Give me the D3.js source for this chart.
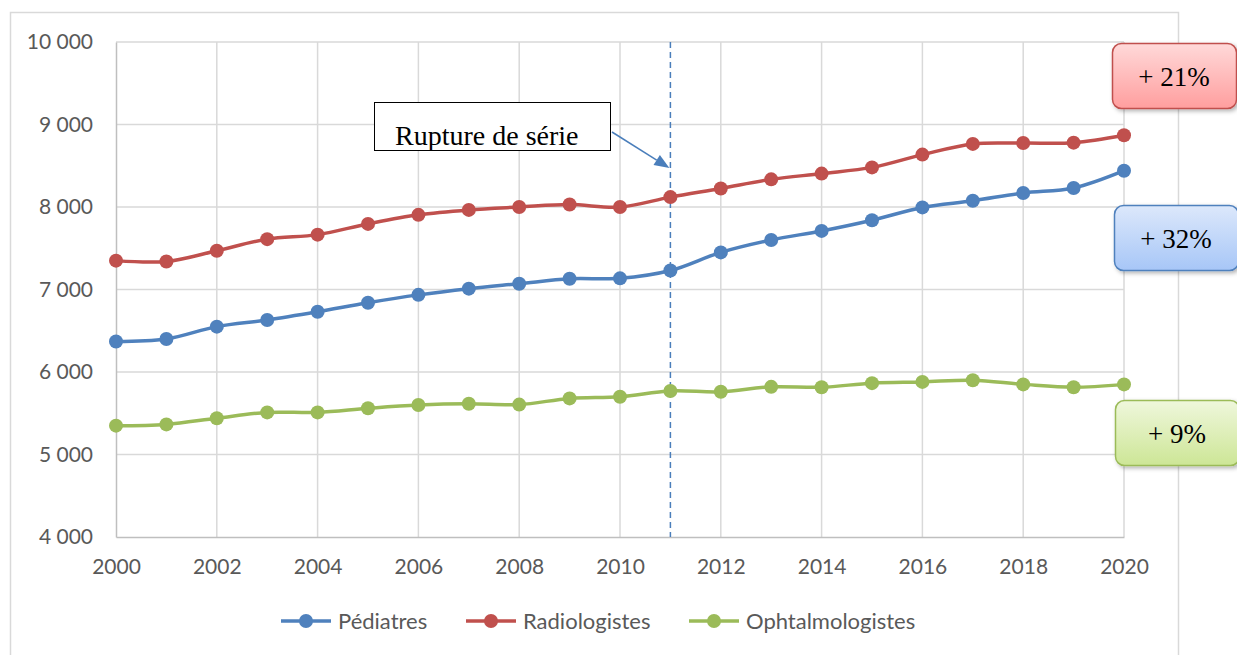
<html>
<head>
<meta charset="utf-8">
<script src="https://cdn.jsdelivr.net/npm/d3@7"></script>
<style>
  body { margin: 0; background: #fff; }
  svg text { font-family: Lato, "Liberation Sans", Arial, sans-serif; }
</style>
</head>
<body>
<div id="chart"></div>
<script>
// data
var years = d3.range(2000, 2021);
var pediatres = [6370, 6400, 6550, 6630, 6730, 6840, 6935, 7010, 7070, 7130, 7135, 7230, 7450, 7600, 7710, 7840, 7995, 8075, 8170, 8230, 8440];
var radiologistes = [7350, 7340, 7470, 7610, 7665, 7795, 7905, 7965, 8000, 8030, 8000, 8120, 8225, 8335, 8405, 8480, 8635, 8765, 8775, 8780, 8870];
var ophtalmo = [5350, 5365, 5440, 5510, 5510, 5560, 5600, 5615, 5605, 5680, 5700, 5770, 5760, 5820, 5815, 5865, 5880, 5900, 5850, 5815, 5850];
var yTicks = [4000, 5000, 6000, 7000, 8000, 9000, 10000];
var xTicks = d3.range(2000, 2021, 2);
var seriesNames = ["Pédiatres", "Radiologistes", "Ophtalmologistes"];
var seriesColors = ["#4F81BD", "#C0504D", "#9BBB59"];
var growthLabels = ["+ 32%", "+ 21%", "+ 9%"];
var breakYear = 2011;

var W = 1237, H = 655;
var svg = d3.select("#chart").append("svg").attr("width", W).attr("height", H);

var defs = svg.append("defs");
var grads = [["#dce8fb", "#a7c6f7"], ["#ffd9d9", "#ff9e9e"], ["#eff7dc", "#cde696"]];
grads.forEach(function (g, i) {
  var lg = defs.append("linearGradient").attr("id", "g" + i).attr("x1", 0).attr("y1", 0).attr("x2", 0).attr("y2", 1);
  lg.append("stop").attr("offset", "0%").attr("stop-color", g[0]);
  lg.append("stop").attr("offset", "100%").attr("stop-color", g[1]);
});
var sh = defs.append("filter").attr("id", "shadow").attr("x", "-20%").attr("y", "-20%").attr("width", "150%").attr("height", "150%");
sh.append("feDropShadow").attr("dx", 2).attr("dy", 2).attr("stdDeviation", 2).attr("flood-color", "#000").attr("flood-opacity", 0.3);

// outer chart frame
svg.append("rect").attr("x", 10.5).attr("y", 12.5).attr("width", 1168).attr("height", 660)
  .attr("fill", "none").attr("stroke", "#d9d9d9").attr("stroke-width", 1.5);

var x = d3.scaleLinear().domain([2000, 2020]).range([116, 1124]);
var y = d3.scaleLinear().domain([4000, 10000]).range([537, 42]);

// grid
svg.append("g").selectAll("line").data(yTicks.slice(1)).join("line")
  .attr("x1", x(2000)).attr("x2", x(2020)).attr("y1", d => y(d)).attr("y2", d => y(d))
  .attr("stroke", "#d9d9d9").attr("stroke-width", 1.5);
svg.append("g").selectAll("line").data(xTicks.slice(1)).join("line")
  .attr("x1", d => x(d)).attr("x2", d => x(d)).attr("y1", y(10000)).attr("y2", y(4000))
  .attr("stroke", "#d9d9d9").attr("stroke-width", 1.5);

// axes
var fmt = function (d) { return d3.format(",")(d).replace(",", " "); };
var yAxis = svg.append("g").attr("transform", "translate(" + x(2000) + ",0)")
  .call(d3.axisLeft(y).tickValues(yTicks).tickSize(0).tickPadding(23).tickFormat(fmt));
var xAxis = svg.append("g").attr("transform", "translate(0," + y(4000) + ")")
  .call(d3.axisBottom(x).tickValues(xTicks).tickSize(0).tickPadding(22).tickFormat(d3.format("d")));
[yAxis, xAxis].forEach(function (a) {
  a.select(".domain").attr("stroke", "#bfbfbf").attr("stroke-width", 1.5);
  a.selectAll("text").attr("fill", "#595959").style("font-family", "Lato, sans-serif").style("font-size", "21px");
});

// break line
svg.append("line").attr("x1", x(breakYear)).attr("x2", x(breakYear)).attr("y1", y(10000)).attr("y2", y(4000))
  .attr("stroke", "#4A7EBB").attr("stroke-width", 1.5).attr("stroke-dasharray", "6,4");

// series
var allSeries = [pediatres, radiologistes, ophtalmo];
var line = d3.line().x((d, i) => x(years[i])).y(d => y(d)).curve(d3.curveCatmullRom.alpha(0.5));
allSeries.forEach(function (vals, k) {
  var g = svg.append("g");
  g.append("path").attr("d", line(vals)).attr("fill", "none")
    .attr("stroke", seriesColors[k]).attr("stroke-width", 3.5);
  g.selectAll("circle").data(vals).join("circle")
    .attr("cx", (d, i) => x(years[i])).attr("cy", d => y(d)).attr("r", 7)
    .attr("fill", seriesColors[k]);
});

// annotation with arrow pointing to the break line
var ann = svg.append("g");
var a0 = [612, 132], a1 = [x(breakYear) - 1, 168];
var dx = a1[0] - a0[0], dy = a1[1] - a0[1], len = Math.sqrt(dx * dx + dy * dy);
var ux = dx / len, uy = dy / len, hl = 15, hw = 6;
var base = [a1[0] - ux * hl, a1[1] - uy * hl];
ann.append("line").attr("x1", a0[0]).attr("y1", a0[1]).attr("x2", base[0]).attr("y2", base[1])
  .attr("stroke", "#4A7EBB").attr("stroke-width", 1.5);
ann.append("path")
  .attr("d", "M" + a1 + "L" + [base[0] - uy * hw, base[1] + ux * hw] + "L" + [base[0] + uy * hw, base[1] - ux * hw] + "Z")
  .attr("fill", "#4A7EBB");
ann.append("rect").attr("x", 374.5).attr("y", 102.5).attr("width", 236).attr("height", 48)
  .attr("fill", "#fff").attr("stroke", "#000").attr("stroke-width", 1);
ann.append("clipPath").attr("id", "annClip").append("rect").attr("x", 375).attr("y", 103).attr("width", 235).attr("height", 47);
ann.append("text").attr("x", 395).attr("y", 145).attr("clip-path", "url(#annClip)")
  .style("font-family", "'Liberation Serif', 'DejaVu Serif', serif").style("font-size", "28px").attr("fill", "#000")
  .text("Rupture de série");

// growth label boxes
var boxPos = [{ x: 1114, y: 205 }, { x: 1112, y: 43 }, { x: 1115, y: 400 }];
growthLabels.forEach(function (lab, k) {
  var b = svg.append("g").attr("transform", "translate(" + boxPos[k].x + "," + boxPos[k].y + ")");
  b.append("rect").attr("x", 0.5).attr("y", 0.5).attr("width", 124).attr("height", 65).attr("rx", 9)
    .attr("fill", "url(#g" + k + ")").attr("stroke", seriesColors[k]).attr("stroke-width", 1.5)
    .attr("filter", "url(#shadow)");
  b.append("text").attr("x", 62).attr("y", 43).attr("text-anchor", "middle")
    .style("font-family", "'Liberation Serif', 'DejaVu Serif', serif").style("font-size", "27px").attr("fill", "#000")
    .text(lab);
});

// legend
var legX = [281, 466, 689];
seriesNames.forEach(function (n, k) {
  var g = svg.append("g").attr("transform", "translate(" + legX[k] + ",621)");
  g.append("line").attr("x1", 0).attr("x2", 50).attr("stroke", seriesColors[k]).attr("stroke-width", 3.5);
  g.append("circle").attr("cx", 25).attr("r", 7).attr("fill", seriesColors[k]);
  g.append("text").attr("x", 57).attr("y", 8).attr("fill", "#595959").style("font-size", "22px").text(n);
});
</script>
</body>
</html>
